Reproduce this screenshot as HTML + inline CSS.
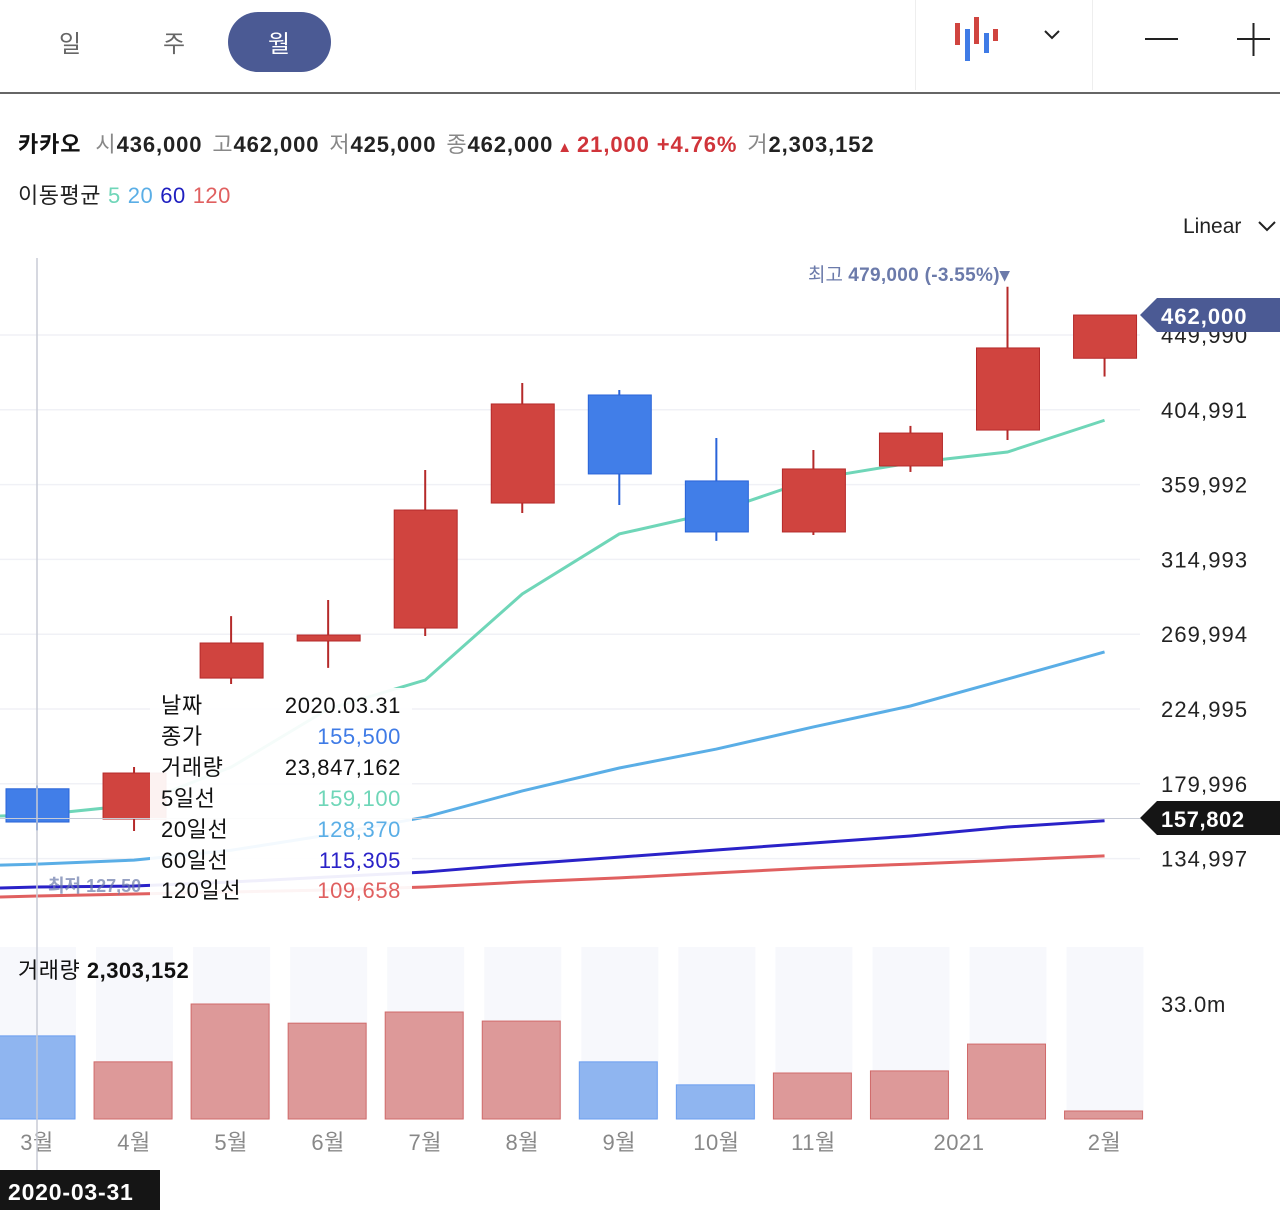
<!DOCTYPE html>
<html><head><meta charset="utf-8"><style>
html,body{margin:0;padding:0;background:#fff;width:1280px;height:1210px;overflow:hidden;font-family:"Liberation Sans","Noto Sans CJK KR",sans-serif}
svg text{font-family:"Liberation Sans","Noto Sans CJK KR",sans-serif}
</style></head><body>
<svg id="c" width="1280" height="1210" viewBox="0 0 1280 1210" xmlns="http://www.w3.org/2000/svg">
<g>
<text x="70" y="52" font-size="24" fill="#666" text-anchor="middle">일</text>
<text x="174" y="52" font-size="24" fill="#666" text-anchor="middle">주</text>
<rect x="228" y="12" width="103" height="60" rx="30" fill="#4b5a94"/>
<text x="279" y="52" font-size="24" fill="#fff" text-anchor="middle">월</text>
<line x1="915.5" y1="0" x2="915.5" y2="90" stroke="#eee"/>
<line x1="1092.5" y1="0" x2="1092.5" y2="90" stroke="#eee"/>
<g>
<rect x="955" y="23" width="5" height="22" fill="#d0443f"/><rect x="965" y="29" width="5" height="32" fill="#3f7be6"/>
<rect x="974" y="17" width="5" height="27" fill="#d0443f"/><rect x="984" y="33" width="5" height="20" fill="#3f7be6"/>
<rect x="993" y="29" width="5" height="12" fill="#d0443f"/></g>
<polyline points="1045,31 1052,38 1059,31" fill="none" stroke="#222" stroke-width="2"/>
<line x1="1145" y1="39" x2="1178" y2="39" stroke="#222" stroke-width="2"/>
<g><line x1="1237" y1="39" x2="1270" y2="39" stroke="#222" stroke-width="2"/><line x1="1253.5" y1="23" x2="1253.5" y2="56" stroke="#222" stroke-width="2"/></g>
<line x1="0" y1="93" x2="1280" y2="93" stroke="#333" stroke-width="1.5"/>
</g>
<text x="18" y="152" font-size="22" letter-spacing="0.9"><tspan font-weight="bold" fill="#111">카카오</tspan><tspan fill="#888" dx="14">시</tspan><tspan fill="#222" font-weight="bold">436,000</tspan><tspan fill="#888" dx="10">고</tspan><tspan fill="#222" font-weight="bold">462,000</tspan><tspan fill="#888" dx="10">저</tspan><tspan fill="#222" font-weight="bold">425,000</tspan><tspan fill="#888" dx="10">종</tspan><tspan fill="#222" font-weight="bold">462,000</tspan><tspan fill="#d0343a" font-size="15" dx="4">▲</tspan><tspan fill="#d0343a" font-weight="bold" dx="4">21,000 +4.76%</tspan><tspan fill="#888" dx="10">거</tspan><tspan fill="#222" font-weight="bold">2,303,152</tspan></text>
<text x="18" y="203" font-size="22" letter-spacing="0.5"><tspan fill="#222">이동평균</tspan><tspan fill="#6fd6b8" dx="7">5</tspan><tspan fill="#5aaee6" dx="7">20</tspan><tspan fill="#1f1fc0" dx="7">60</tspan><tspan fill="#e06060" dx="7">120</tspan></text>
<text x="1183" y="233" font-size="21" fill="#222">Linear</text>
<polyline points="1259,222 1267,230 1275,222" fill="none" stroke="#222" stroke-width="2"/>
<g id="grid"></g><g id="vbg"></g><g id="ma"></g><g id="candles"></g><g id="vol"></g><g id="ann"></g>
</svg>
<script>
const xLabels=['3월','4월','5월','6월','7월','8월','9월','10월','11월','2021','2월'];
const xLabelIdx=[0,1,2,3,4,5,6,7,8,9.5,11];
const opens=[177000,158800,243600,265900,273700,348900,413900,362200,331500,371200,392800,436000];
const highs=[179000,190100,280900,290600,368800,421100,416900,388000,380800,395300,479000,462000];
const lows=[152000,151600,240000,249700,268900,342900,347700,326100,329700,367600,386800,425000];
const closes=[157000,186480,264700,269500,344700,408500,366400,331500,369400,391000,442200,462000];
const ma5=[161200,167200,190000,225000,242400,294200,330300,343500,363400,373000,379600,398700];
const ma20=[131700,134100,140000,149200,160000,175700,189500,200900,214200,226800,243000,259300];
const ma60=[117900,118500,120900,123900,126900,131700,135900,140200,144400,148600,154000,157800];
const ma120=[112500,113700,114900,116100,117900,120900,123400,126400,129400,131700,134100,136600];
const volumes=[23.85,16.4,33.0,27.5,30.7,28.1,16.4,9.8,13.2,13.8,21.5,2.3];
const priceTicks=[449990,404991,359992,314993,269994,224995,179996,134997];
const volTicks=[33.0];
const NS='http://www.w3.org/2000/svg';
const X=i=>37+i*97.05;
const Y=p=>335+(449990-p)*74.8/44999;
const VY=v=>1119-v*115/33.0;
function mk(t,a,par){const e=document.createElementNS(NS,t);for(const k in a)e.setAttribute(k,a[k]);document.getElementById(par).appendChild(e);return e;}
const fmt=n=>n.toLocaleString('en-US');
priceTicks.forEach(p=>{
 const l=mk('line',{x1:0,x2:1140,y1:Y(p),y2:Y(p),stroke:'#f0f1f6','stroke-width':1.5},'grid');
 
 
 const t=mk('text',{x:1161,y:Y(p)+8,'font-size':22,'letter-spacing':1.1,fill:'#222'},'grid');t.textContent=fmt(p);
 
 
});
volTicks.forEach(v=>{const t=mk('text',{x:1161,y:VY(v)+8,'font-size':22,'letter-spacing':0.8,fill:'#222'},'grid');t.textContent=v.toFixed(1)+'m';
 
 });
volumes.forEach((v,i)=>{
 const b=mk('rect',{x:X(i)-38,y:947,width:77,height:172,fill:'#f7f8fc'},'vbg');
 
 
 const up=closes[i]>=opens[i];
 const r=mk('rect',{x:X(i)-40,y:VY(v),width:78,height:1119-VY(v),fill:up?'#dd9999':'#8fb5f0',stroke:up?'#d06a6a':'#6b9ef0','stroke-width':1},'vol');
 
 
});
xLabels.forEach((s,k)=>{
 const t=mk('text',{x:X(xLabelIdx[k]),y:1150,'font-size':22,'letter-spacing':0.5,fill:'#888','text-anchor':'middle'},'vol');t.textContent=s;
 
 
});
[[ma120,'#e06060'],[ma60,'#2a22c8'],[ma20,'#5aaee6'],[ma5,'#6fd6b8']].forEach(([s,c],k)=>{
 const pts=s.map((v,i)=>X(i)+','+Y(v));pts.unshift('0,'+(Y(s[0])+1));
 const p=mk('polyline',{points:pts.join(' '),fill:'none',stroke:c,'stroke-width':3},'ma');
 
 
});
opens.forEach((o,i)=>{
 const c=closes[i],up=c>=o,col=up?'#d0443f':'#417ee8',sc=up?'#b52a2a':'#2a64d8';
 const w=mk('line',{x1:X(i),x2:X(i),y1:Y(highs[i]),y2:Y(lows[i]),stroke:sc,'stroke-width':2},'candles');
 
 
 const top=Y(Math.max(o,c)),bot=Y(Math.min(o,c));
 const r=mk('rect',{x:X(i)-31,y:top,width:63,height:Math.max(bot-top,2),fill:col,stroke:sc,'stroke-width':1},'candles');
 
 
});
const a=document.getElementById('ann');
a.innerHTML=`
<line x1="37" y1="258" x2="37" y2="1170" stroke="#c8ccd6" stroke-width="1.5"/>
<line x1="0" y1="818.5" x2="1140" y2="818.5" stroke="#c8ccd6" stroke-width="1"/>
<rect x="150" y="688" width="262" height="218" fill="#fff" opacity="0.93"/>
<g font-size="22" letter-spacing="0.6">
<text x="161" y="713" fill="#111">날짜</text><text x="401" y="713" fill="#111" text-anchor="end">2020.03.31</text>
<text x="161" y="744" fill="#111">종가</text><text x="401" y="744" fill="#3f7be6" text-anchor="end">155,500</text>
<text x="161" y="775" fill="#111">거래량</text><text x="401" y="775" fill="#111" text-anchor="end">23,847,162</text>
<text x="161" y="806" fill="#111">5일선</text><text x="401" y="806" fill="#6fd6b8" text-anchor="end">159,100</text>
<text x="161" y="837" fill="#111">20일선</text><text x="401" y="837" fill="#5aaee6" text-anchor="end">128,370</text>
<text x="161" y="868" fill="#111">60일선</text><text x="401" y="868" fill="#2a22c8" text-anchor="end">115,305</text>
<text x="161" y="898" fill="#111">120일선</text><text x="401" y="898" fill="#e06060" text-anchor="end">109,658</text></g>
<text x="48" y="892" font-size="18" font-weight="bold" fill="#6b7aaa" opacity="0.7">최저 127,50</text>
<text x="808" y="281" font-size="19" fill="#6b7aaa">최고 <tspan font-weight="bold" letter-spacing="0.3">479,000 (-3.55%)▾</tspan></text>
<path d="M1140,315 L1157,298 L1280,298 L1280,332 L1157,332 Z" fill="#4b5a94"/>
<text x="1161" y="324" font-size="22" letter-spacing="1" fill="#fff" font-weight="bold">462,000</text>
<path d="M1140,818 L1157,801 L1280,801 L1280,835 L1157,835 Z" fill="#151515"/>
<text x="1161" y="827" font-size="22" letter-spacing="0.6" fill="#fff" font-weight="bold">157,802</text>
<text x="18" y="978" font-size="22" letter-spacing="0.5" fill="#111">거래량 <tspan font-weight="bold">2,303,152</tspan></text>
<rect x="0" y="1170" width="160" height="40" fill="#151515"/>
<text x="8" y="1200" font-size="23" letter-spacing="0.8" fill="#fff" font-weight="bold">2020-03-31</text>`;
</script>
</body></html>
